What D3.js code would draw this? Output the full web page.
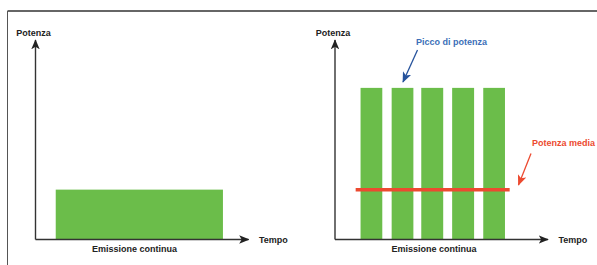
<!DOCTYPE html>
<html>
<head>
<meta charset="utf-8">
<script src="https://cdn.jsdelivr.net/npm/d3@7"></script>
<style>
  html, body { margin: 0; padding: 0; background: #fff; }
  svg { display: block; }
  text { font-family: "Liberation Sans", Arial, Helvetica, sans-serif; font-weight: bold; }
</style>
</head>
<body>
<svg id="chart" width="597" height="265"></svg>
<script>
// data (time / power in arbitrary units)
let yLabel = 'Potenza';
let xLabel = 'Tempo';
let caption = 'Emissione continua';
let captionAt = 4.65;

let continuousBar = [{start: 0.95, end: 8.8, power: 2.5}];
let pulseStarts = [1.2, 2.66, 4.05, 5.5, 6.96];
let pulseEnds = [2.22, 3.68, 5.08, 6.53, 7.98];
let peakPower = 7.6;
let meanPower = 2.5;
let meanLine = [0.97, 8.2];

let peakNote = 'Picco di potenza';
let meanNote = 'Potenza media';

let colorBar = '#6bbd4a';
let colorAxis = '#333';
let colorMean = '#ec4a30';
let colorPeakText = '#3c6fb8';
let colorPeakArrow = '#27539c';

let svg = d3.select('#chart');

// frame
svg.append('line').attr('x1', 7.5).attr('x2', 597).attr('y1', 11).attr('y2', 11)
    .attr('stroke', '#333').attr('stroke-width', 1.4);
svg.append('line').attr('x1', 7.5).attr('x2', 7.5).attr('y1', 11).attr('y2', 265)
    .attr('stroke', '#555').attr('stroke-width', 1);

let defs = svg.append('defs');
function marker(id, color, size) {
    defs.append('marker')
        .attr('id', id)
        .attr('viewBox', '0 0 12 10')
        .attr('refX', 11).attr('refY', 5)
        .attr('markerUnits', 'userSpaceOnUse')
        .attr('markerWidth', size * 1.2).attr('markerHeight', size)
        .attr('orient', 'auto')
        .append('path')
        .attr('d', 'M0,0 L12,5 L0,10 L3,5 Z')
        .attr('fill', color);
}
marker('arrAxis', '#222', 8.5);
marker('arrBlue', colorPeakArrow, 9);
marker('arrRed', colorMean, 9);

function panel(x0) {
    let x = d3.scaleLinear().domain([0, 10]).range([x0, x0 + 213]);
    let y = d3.scaleLinear().domain([0, 10]).range([239.5, 40]);
    let g = svg.append('g');
    return {x: x, y: y, g: g};
}

function axes(p) {
    let g = p.g, x = p.x, y = p.y;
    g.append('line')
        .attr('x1', x(0)).attr('x2', x(10))
        .attr('y1', y(0)).attr('y2', y(0))
        .attr('stroke', colorAxis).attr('stroke-width', 1.4)
        .attr('marker-end', 'url(#arrAxis)');
    g.append('line')
        .attr('x1', x(0)).attr('x2', x(0))
        .attr('y1', y(0)).attr('y2', y(10))
        .attr('stroke', colorAxis).attr('stroke-width', 1.4)
        .attr('marker-end', 'url(#arrAxis)');
    g.append('text').attr('x', x(0) - 2).attr('y', 36)
        .attr('text-anchor', 'middle').attr('font-size', 9).attr('fill', '#222')
        .text(yLabel);
    g.append('text').attr('x', x(10) + 10.5).attr('y', 242.5)
        .attr('font-size', 9).attr('fill', '#222')
        .text(xLabel);
    g.append('text').attr('x', x(captionAt)).attr('y', 251.5)
        .attr('text-anchor', 'middle').attr('font-size', 9).attr('fill', '#222')
        .text(caption);
}

// left: continuous emission
let left = panel(35.5);
left.g.selectAll('rect').data(continuousBar).enter().append('rect')
    .attr('x', d => left.x(d.start))
    .attr('width', d => left.x(d.end) - left.x(d.start))
    .attr('y', d => left.y(d.power))
    .attr('height', d => left.y(0) - left.y(d.power))
    .attr('fill', colorBar);
axes(left);

// right: pulsed emission
let right = panel(335);
let pulses = pulseStarts.map((s, i) => ({start: s, end: pulseEnds[i], power: peakPower}));
right.g.selectAll('rect').data(pulses).enter().append('rect')
    .attr('x', d => right.x(d.start))
    .attr('width', d => right.x(d.end) - right.x(d.start))
    .attr('y', d => right.y(d.power))
    .attr('height', d => right.y(0) - right.y(d.power))
    .attr('fill', colorBar);
right.g.append('line')
    .attr('x1', right.x(meanLine[0])).attr('x2', right.x(meanLine[1]))
    .attr('y1', right.y(meanPower)).attr('y2', right.y(meanPower))
    .attr('stroke', colorMean).attr('stroke-width', 3.5);
axes(right);

// annotations
svg.append('text').attr('x', 416).attr('y', 44.5)
    .attr('font-size', 9).attr('fill', colorPeakText).text(peakNote);
svg.append('line')
    .attr('x1', 417.5).attr('y1', 50).attr('x2', 403).attr('y2', 82)
    .attr('stroke', colorPeakArrow).attr('stroke-width', 1.3)
    .attr('marker-end', 'url(#arrBlue)');

svg.append('text').attr('x', 532).attr('y', 145.5)
    .attr('font-size', 9).attr('fill', colorMean).text(meanNote);
svg.append('line')
    .attr('x1', 531).attr('y1', 153.5).attr('x2', 518.5).attr('y2', 185)
    .attr('stroke', colorMean).attr('stroke-width', 1.3)
    .attr('marker-end', 'url(#arrRed)');
</script>
</body>
</html>
